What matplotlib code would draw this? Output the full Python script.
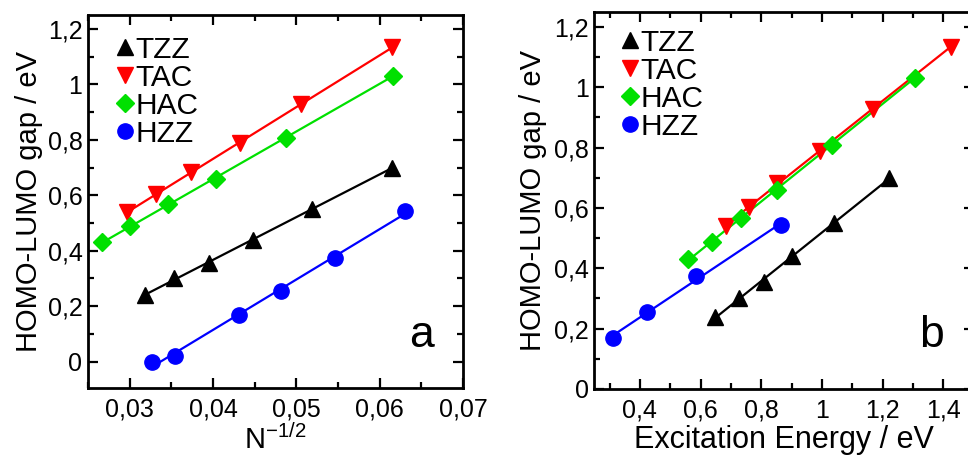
import numpy as np
import matplotlib
matplotlib.use("Agg")
import matplotlib.pyplot as plt
from matplotlib.ticker import MultipleLocator, FuncFormatter

plt.rcParams["font.family"] = ["Liberation Sans", "DejaVu Sans"]
plt.rcParams["mathtext.fontset"] = "custom"
plt.rcParams["mathtext.rm"] = "Liberation Sans"
plt.rcParams["mathtext.it"] = "Liberation Sans"

labels = ["TZZ", "TAC", "HAC", "HZZ"]
colors = ["black", "#ff0000", "#00e000", "#0000ff"]
markers = ["^", "v", "D", "o"]

# HOMO-LUMO gaps (eV)
gap_tzz = [0.24, 0.30, 0.355, 0.44, 0.55, 0.70]
gap_tac = [0.54, 0.603, 0.684, 0.79, 0.928, 1.134]
gap_hac = [0.43, 0.488, 0.567, 0.66, 0.808, 1.032]
gap_hzz = [0.0, 0.02, 0.17, 0.254, 0.374, 0.543]

# N^-1/2
n_tzz = [0.0318, 0.0353, 0.0395, 0.0448, 0.0519, 0.0615]
n_tac = [0.0297, 0.0332, 0.0374, 0.0432, 0.0506, 0.0615]
n_hac = [0.0267, 0.0300, 0.0346, 0.0404, 0.0488, 0.0616]
n_hzz = [0.0327, 0.0355, 0.0431, 0.0482, 0.0546, 0.0630]

# lowest excitation energies (eV); no value for the two largest HZZ
exc_tzz = [0.648, 0.728, 0.808, 0.900, 1.041, 1.223]
exc_tac = [0.684, 0.761, 0.853, 0.993, 1.170, 1.425]
exc_hac = [0.560, 0.638, 0.732, 0.853, 1.032, 1.306]
exc_hzz = [np.nan, np.nan, 0.311, 0.424, 0.585, 0.866]

gaps = [gap_tzz, gap_tac, gap_hac, gap_hzz]
inv_n = [n_tzz, n_tac, n_hac, n_hzz]
exc = [exc_tzz, exc_tac, exc_hac, exc_hzz]

msizes = {"^": 11.5, "v": 11.5, "D": 9, "o": 11}


def comma(v, pos):
    s = f"{round(v, 6):g}"
    return s.replace(".", ",")


def style_axes(ax):
    ax.tick_params(which="both", direction="in", top=True, right=True,
                   labelsize=18, width=1.6)
    ax.tick_params(which="major", length=7)
    ax.tick_params(which="minor", length=4)
    ax.tick_params(axis="x", pad=7)
    ax.tick_params(axis="y", pad=4)
    ax.xaxis.set_major_formatter(FuncFormatter(comma))
    ax.yaxis.set_major_formatter(FuncFormatter(comma))
    for sp in ax.spines.values():
        sp.set_linewidth(2)


def draw_panel(ax, xs_all, leg_anchor):
    for xs, ys, lab, c, m in zip(xs_all, gaps, labels, colors, markers):
        xs = np.asarray(xs, float)
        ys = np.asarray(ys, float)
        ok = ~np.isnan(xs)
        k, b = np.polyfit(xs[ok], ys[ok], 1)
        xl = np.array([xs[ok].min(), xs[ok].max()])
        ax.plot(xl, k * xl + b, color=c, lw=1.6, zorder=2)
        ax.plot(xs[ok], ys[ok], ls="none", marker=m, ms=msizes[m],
                color=c, mec=c, label=lab, zorder=3)
    ax.legend(loc="upper left", bbox_to_anchor=leg_anchor, frameon=False,
              fontsize=21.5, handlelength=0.6, handletextpad=0.05,
              labelspacing=0.0, borderpad=0, borderaxespad=0, numpoints=1)


fig = plt.figure(figsize=(9.68, 4.57), dpi=100)

ax1 = fig.add_axes([0.0909, 0.151, 0.3874, 0.816])
draw_panel(ax1, inv_n, (0.075, 0.945))
ax1.set_xlim(0.025, 0.07)
ax1.set_ylim(-0.095, 1.25)
ax1.xaxis.set_major_locator(MultipleLocator(0.01))
ax1.xaxis.set_minor_locator(MultipleLocator(0.005))
ax1.yaxis.set_major_locator(MultipleLocator(0.2))
ax1.yaxis.set_minor_locator(MultipleLocator(0.1))
style_axes(ax1)
ax1.set_ylabel("HOMO-LUMO gap / eV", fontsize=21)
ax1.yaxis.set_label_coords(-0.12, 0.5)
ax1.set_xlabel(r"N$^{\mathregular{-1/2}}$", fontsize=21, labelpad=2)
ax1.text(0.89, 0.11, "a", transform=ax1.transAxes, fontsize=32, ha="center")

ax2 = fig.add_axes([0.614, 0.1488, 0.3917, 0.8256])
draw_panel(ax2, exc, (0.07, 0.955))
ax2.set_xlim(0.25, 1.5)
ax2.set_ylim(0, 1.25)
ax2.xaxis.set_major_locator(MultipleLocator(0.2))
ax2.xaxis.set_minor_locator(MultipleLocator(0.1))
ax2.yaxis.set_major_locator(MultipleLocator(0.2))
ax2.yaxis.set_minor_locator(MultipleLocator(0.1))
style_axes(ax2)
ax2.set_ylabel("HOMO-LUMO gap / eV", fontsize=21)
ax2.yaxis.set_label_coords(-0.125, 0.5)
ax2.set_xlabel("Excitation Energy / eV", fontsize=22, labelpad=2)
ax2.text(0.89, 0.111, "b", transform=ax2.transAxes, fontsize=32, ha="center")

fig.savefig("out.png", dpi=100)
